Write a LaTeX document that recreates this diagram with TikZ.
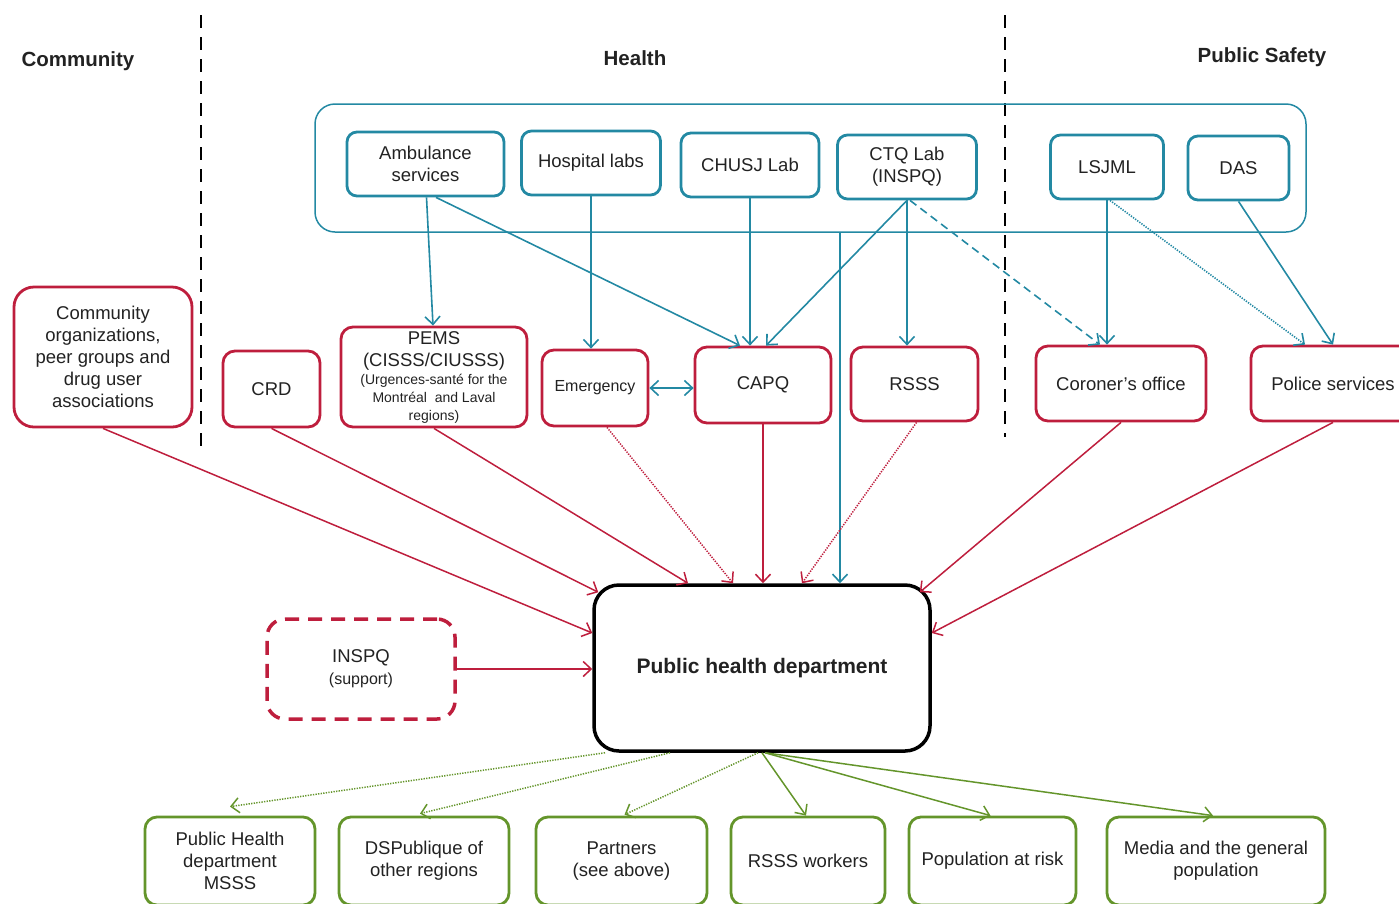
\documentclass[tikz,border=0pt]{standalone}
\usepackage{fontspec}
\setmainfont{Liberation Sans}
\usepackage{xcolor}
\usepackage{tikz}
\usetikzlibrary{arrows.meta,positioning,calc}

\definecolor{tealc}{HTML}{2389A3}
\definecolor{redc}{HTML}{BE1E3D}
\definecolor{greenc}{HTML}{64952B}
\definecolor{txt}{HTML}{222222}

\begin{document}
\begin{tikzpicture}[x=1pt,y=-1pt,
  every node/.style={font=\fontsize{18.5}{22}\selectfont, text=txt, align=center},
  hdr/.style={font=\fontsize{20.5}{24}\selectfont\bfseries},
  tbox/.style={draw=tealc, line width=2.8pt, rounded corners=10pt, minimum height=64pt},
  rbox/.style={draw=redc, line width=2.8pt, rounded corners=12pt},
  gbox/.style={draw=greenc, line width=2.8pt, rounded corners=12pt, minimum height=88pt},
  tip/.style={-{Straight Barb[length=8pt,width=15pt]}},
  tarr/.style={tip, draw=tealc, line width=1.6pt},
  rarr/.style={tip, draw=redc, line width=1.5pt},
  garr/.style={tip, draw=greenc, line width=1.5pt},
  dots/.style={dash pattern=on 1.3pt off 1.3pt},
  divider/.style={draw=black, line width=2.8pt, dash pattern=on 13pt off 9pt}]
\useasboundingbox (0,0) rectangle (1399,903);

% Sector headers
\node[hdr] (hcom) at (78,61) {Community};
\node[hdr] (hhealth) at (635,58) {Health};
\node[hdr] (hsafety) at (1262,57) {Public Safety};

% Dividers
\draw[divider] (201,15) -- (201,447);
\draw[divider] (1005,15) -- (1005,437);

% Partner group
\node[draw=tealc, line width=1.5pt, rounded corners=20pt, minimum width=991pt, minimum height=128pt] (group) at (810.5,168) {};

% Top row
\node[tbox, minimum width=157pt] (amb) at (425.5,164) {Ambulance\\services};
\node[tbox, minimum width=139pt] (hosp) at (591,163) {Hospital labs};
\node[tbox, minimum width=138pt] (chusj) at (750,165) {CHUSJ Lab};
\node[tbox, minimum width=139pt] (ctq) at (907,167) {CTQ Lab\\(INSPQ)};
\node[tbox, minimum width=113pt] (lsjml) at (1107,167) {LSJML};
\node[tbox, minimum width=101pt] (das) at (1238.5,168) {DAS};

% Middle row
\node[rbox, rounded corners=20pt, minimum width=178pt, minimum height=140pt] (comm) at (103,357) {Community\\organizations,\\peer groups and\\drug user\\associations};
\node[rbox, minimum width=97pt, minimum height=76pt] (crd) at (271.5,389) {CRD};
\node[rbox, minimum width=186pt, minimum height=100pt, inner sep=1pt] (pems) at (434,377) {PEMS\\(CISSS/CIUSSS)\\[-4pt]
  \fontsize{14}{17}\selectfont(Urgences-santé for the\\[-4pt]
  \fontsize{14}{17}\selectfont Montréal\ \ and Laval\\[-4pt]
  \fontsize{14}{17}\selectfont regions)};
\node[rbox, minimum width=106pt, minimum height=76pt, font=\fontsize{16}{19}\selectfont] (emerg) at (595,388) {Emergency};
\node[rbox, minimum width=136pt, minimum height=76pt] (capq) at (763,385) {CAPQ};
\node[rbox, minimum width=127pt, minimum height=74pt] (rsss) at (914.5,384) {RSSS};
\node[rbox, minimum width=170pt, minimum height=75pt] (coroner) at (1121,383.5) {Coroner’s office};
\node[rbox, minimum width=164pt, minimum height=75pt] (police) at (1333,383.5) {Police services};

% Public health department and support
\node[draw=black, line width=3.5pt, rounded corners=25pt, minimum width=336pt, minimum height=166pt,
  font=\fontsize{21}{25}\selectfont\bfseries] (phd) at (762,668) {Public health department};
\node[draw=redc, line width=3.5pt, dash pattern=on 14pt off 9pt, rounded corners=18pt,
  minimum width=188pt, minimum height=100pt] (inspq) at (361,669) {INSPQ\\\fontsize{16}{19}\selectfont(support)};

% Bottom row
\node[gbox, minimum width=170pt] (msss) at (230,861) {Public Health\\department\\MSSS};
\node[gbox, minimum width=170pt] (dsp) at (424,861) {DSPublique of\\other regions};
\node[gbox, minimum width=171pt] (partners) at (621.5,861) {Partners\\(see above)};
\node[gbox, minimum width=154pt] (workers) at (808,861) {RSSS workers};
\node[gbox, minimum width=167pt] (poprisk) at (992.5,861) {Population at risk};
\node[gbox, minimum width=218pt] (media) at (1216,861) {Media and the general\\population};

% Teal links
\draw[tarr] ([xshift=1]amb.south) -- ([xshift=-1]pems.north);
\draw[tarr] ([xshift=10.5]amb.south) -- ([xshift=-23]capq.north);
\draw[tarr] (hosp.south) -- (hosp.south |- emerg.north);
\draw[tarr] (chusj.south) -- (chusj.south |- capq.north);
\draw[tarr] (ctq.south) -- ([xshift=3]capq.north);
\draw[tarr] (ctq.south) -- (ctq.south |- rsss.north);
\draw[tarr, dash pattern=on 8pt off 5pt] ([xshift=3]ctq.south) -- ([xshift=-21]coroner.north);
\draw[tarr] (lsjml.south) -- (lsjml.south |- coroner.north);
\draw[tarr, dots] ([xshift=3]lsjml.south) -- ([xshift=-28]police.north);
\draw[tarr] (das.south) -- (police.north);
\draw[tarr] ([xshift=29.5]group.south) -- ([xshift=29.5]group.south |- phd.north);
\draw[tarr, {Straight Barb[length=8pt,width=15pt]}-{Straight Barb[length=8pt,width=15pt]}] (emerg.east) -- (emerg.east -| capq.west);

% Red links
\draw[rarr] (comm.south) -- ([yshift=35]phd.west);
\draw[rarr] (crd.south) -- ([xshift=6,yshift=-9]phd.north west);
\draw[rarr] (pems.south) -- ([xshift=-74]phd.north);
\draw[rarr, dots] ([xshift=12]emerg.south) -- ([xshift=-29]phd.north);
\draw[rarr] (capq.south) -- (capq.south |- phd.north);
\draw[rarr, dots] ([xshift=2]rsss.south) -- ([xshift=40]phd.north);
\draw[rarr] (coroner.south) -- ([xshift=-12,yshift=-9]phd.north east);
\draw[rarr] (police.south) -- ([yshift=35]phd.east);
\draw[rarr] (inspq.east) -- (inspq.east -| phd.west);

% Green links
\draw[garr, dots] ([xshift=-157]phd.south) -- ([yshift=9]msss.north);
\draw[garr, dots] ([xshift=-92]phd.south) -- ([xshift=-4,yshift=2]dsp.north);
\draw[garr, dots] ([xshift=-4]phd.south) -- ([xshift=3,yshift=1]partners.north);
\draw[garr] (phd.south) -- ([xshift=-2]workers.north);
\draw[garr] ([xshift=3]phd.south) -- ([xshift=-2]poprisk.north);
\draw[garr] ([xshift=3]phd.south) -- ([xshift=-3]media.north);

\end{tikzpicture}
\end{document}
